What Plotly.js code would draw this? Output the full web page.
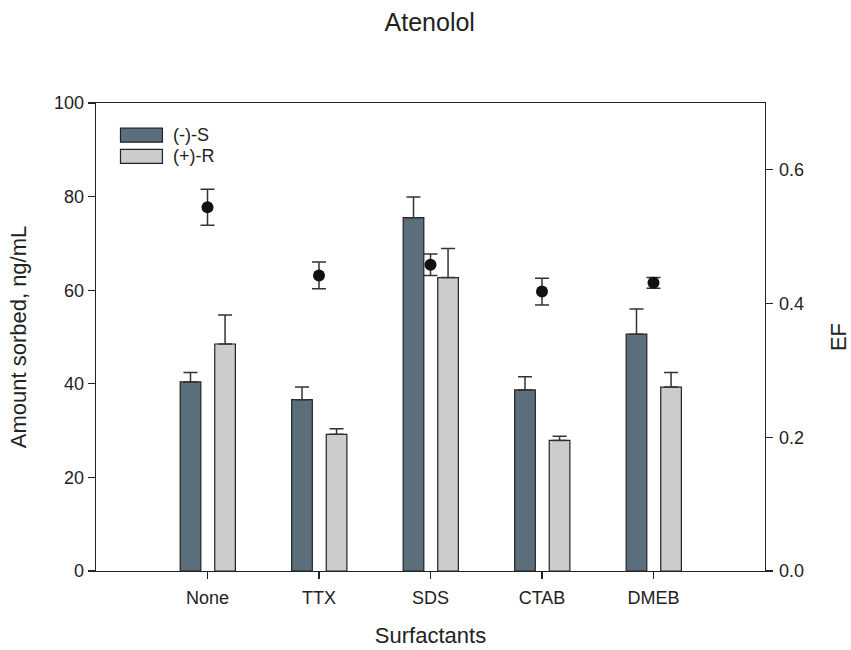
<!DOCTYPE html>
<html>
<head>
<meta charset="utf-8">
<script src="https://cdn.plot.ly/plotly-3.0.1.min.js"></script>
<style>
  html, body { margin: 0; padding: 0; background: #fff; }
  #chart { width: 851px; height: 650px; }
</style>
</head>
<body>
<div id="chart"></div>
<script>
// Surfactant treatments
const categories = ['None', 'TTX', 'SDS', 'CTAB', 'DMEB'];

// Amount sorbed (ng/mL) for each enantiomer, with upper error
const sValues = [40.4, 36.6, 75.5, 38.7, 50.6];
const sErrors = [2.0, 2.7, 4.4, 2.8, 5.4];
const rValues = [48.5, 29.2, 62.7, 27.9, 39.3];
const rErrors = [6.2, 1.2, 6.2, 0.9, 3.1];

// Enantiomeric fraction with symmetric error
const efValues = [0.544, 0.442, 0.458, 0.418, 0.431];
const efErrors = [0.027, 0.020, 0.016, 0.020, 0.008];

const seriesNames = ['(-)-S', '(+)-R'];
const seriesColors = ['#5a6e7b', '#cccccc'];

const FONT = '"Liberation Sans", Arial, Helvetica, sans-serif';
const INK = '#222222';
const zeros = categories.map(() => 0);

const barCommon = {
  type: 'bar',
  x: categories,
  width: 0.185,
  showlegend: false,
  hoverinfo: 'skip'
};

const traces = [
  Object.assign({}, barCommon, {
    name: seriesNames[0],
    y: sValues,
    offset: -0.245,
    marker: { color: seriesColors[0], line: { color: INK, width: 1.2 } },
    error_y: { type: 'data', symmetric: false, array: sErrors, arrayminus: zeros,
               color: '#333333', thickness: 1.5, width: 7 }
  }),
  Object.assign({}, barCommon, {
    name: seriesNames[1],
    y: rValues,
    offset: 0.065,
    marker: { color: seriesColors[1], line: { color: INK, width: 1.2 } },
    error_y: { type: 'data', symmetric: false, array: rErrors, arrayminus: zeros,
               color: '#333333', thickness: 1.5, width: 7 }
  }),
  {
    type: 'scatter',
    mode: 'markers',
    name: 'EF',
    x: categories,
    y: efValues,
    yaxis: 'y2',
    showlegend: false,
    marker: { color: '#111111', size: 12, symbol: 'circle' },
    error_y: { type: 'data', array: efErrors, color: '#333333', thickness: 1.5, width: 7 }
  }
];

// Legend drawn as swatches plus labels in the upper-left of the plot
function px2paperX(px) { return (px - 95.5) / 669.5; }
function px2paperY(py) { return (571 - py) / 468.5; }

const legendRows = [
  { y0: 127.7, y1: 141.7 },
  { y0: 149.0, y1: 163.0 }
];

const shapes = legendRows.map((row, i) => ({
  type: 'rect', xref: 'paper', yref: 'paper',
  x0: px2paperX(120), x1: px2paperX(162),
  y0: px2paperY(row.y1), y1: px2paperY(row.y0),
  fillcolor: seriesColors[i],
  line: { color: INK, width: 1.2 }
}));

const annotations = legendRows.map((row, i) => ({
  xref: 'paper', yref: 'paper',
  x: px2paperX(171), y: px2paperY((row.y0 + row.y1) / 2),
  xanchor: 'left', yanchor: 'middle',
  text: seriesNames[i], showarrow: false,
  font: { family: FONT, size: 18, color: INK }
}));

const layout = {
  width: 851,
  height: 650,
  margin: { l: 95.5, r: 86, t: 102.5, b: 79 },
  paper_bgcolor: '#ffffff',
  plot_bgcolor: '#ffffff',
  font: { family: FONT, color: INK },
  title: {
    text: 'Atenolol',
    x: 0.505, xref: 'container', xanchor: 'center',
    y: 1 - 22 / 650, yref: 'container', yanchor: 'middle',
    font: { family: FONT, size: 25, color: INK }
  },
  xaxis: {
    type: 'category',
    range: [-1, 5],
    showgrid: false, zeroline: false,
    showline: true, linecolor: INK, linewidth: 1.3,
    mirror: true,
    ticks: 'outside', ticklen: 7, tickwidth: 1.2, tickcolor: INK,
    ticklabelstandoff: 3,
    tickfont: { family: FONT, size: 18, color: INK },
    title: { text: 'Surfactants', standoff: 20, font: { family: FONT, size: 22, color: INK } }
  },
  yaxis: {
    range: [0, 100],
    dtick: 20,
    showgrid: false, zeroline: false,
    showline: true, linecolor: INK, linewidth: 1.3,
    ticks: 'outside', ticklen: 7, tickwidth: 1.2, tickcolor: INK,
    tickfont: { family: FONT, size: 18, color: INK },
    title: { text: 'Amount sorbed, ng/mL', standoff: 21, font: { family: FONT, size: 22, color: INK } }
  },
  yaxis2: {
    overlaying: 'y',
    side: 'right',
    range: [0, 0.7],
    tickvals: [0, 0.2, 0.4, 0.6],
    ticktext: ['0.0', '0.2', '0.4', '0.6'],
    showgrid: false, zeroline: false,
    showline: true, linecolor: INK, linewidth: 1.3,
    ticks: 'outside', ticklen: 7, tickwidth: 1.2, tickcolor: INK,
    ticklabelstandoff: 2,
    tickfont: { family: FONT, size: 18, color: INK },
    title: { text: 'EF', standoff: 27, font: { family: FONT, size: 22, color: INK } }
  },
  shapes: shapes,
  annotations: annotations,
  showlegend: false
};

Plotly.newPlot('chart', traces, layout, { displayModeBar: false, staticPlot: true });
</script>
</body>
</html>
